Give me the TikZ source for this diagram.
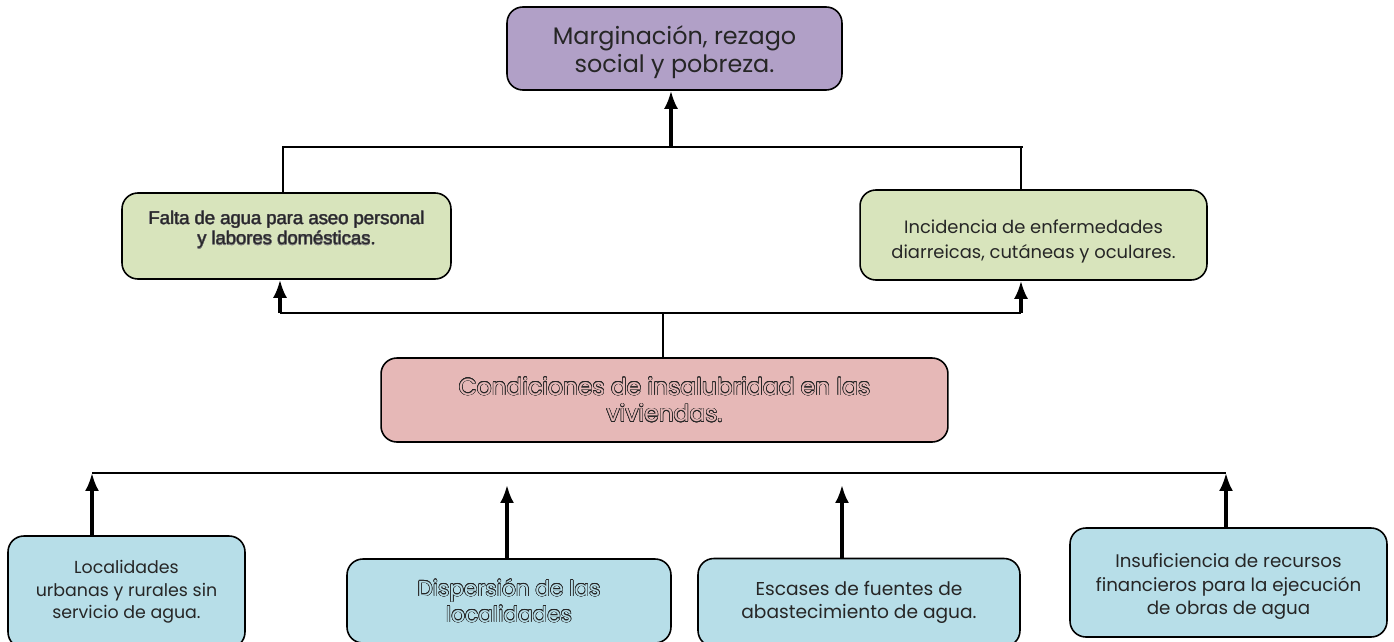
\documentclass[tikz,border=0pt]{standalone}
\usepackage{xcolor}
\usepackage{fontspec}
\setmainfont{Poppins}
\newfontfamily\arialfont{Liberation Sans}
\usepackage{contour}
\contourlength{0.3pt}
\usepackage{tikz}
\usetikzlibrary{arrows.meta,positioning}
\definecolor{lila}{HTML}{B1A0C7}
\definecolor{verde}{HTML}{D8E4BC}
\definecolor{rosa}{HTML}{E6B8B7}
\definecolor{celeste}{HTML}{B7DEE8}
\definecolor{texto}{HTML}{262626}
\tikzstyle{caja} = [draw, rounded corners=9pt, line width=0.9pt, align=center, inner sep=0pt, text=texto]
\tikzstyle{line} = [draw, line width=1.1pt]
\tikzstyle{flecha} = [draw, line width=1.8pt, -{Latex[length=0.36cm,width=0.28cm]}]

\begin{document}
\begin{tikzpicture}[x=0.02cm,y=-0.02cm]
  \useasboundingbox (0,0) rectangle (1394,642);

  % efecto final
  \node[caja,fill=lila,minimum width=6.70cm,minimum height=1.66cm,font=\fontsize{13.6}{15.8}\selectfont] (marg) at (674.5,48.5) {\rule{0pt}{14.5pt}Marginación, rezago\\social y pobreza.};

  % efectos
  \node[caja,fill=verde,minimum width=6.58cm,minimum height=1.72cm,font=\arialfont\fontsize{10.5}{11.6}\selectfont] (falta) at (286.5,236) {\contourlength{0.15pt}\contour{texto!60}{Falta de agua para aseo personal}\\\contourlength{0.15pt}\contour{texto!60}{y labores domésticas.}\\[-2.4pt]};
  \node[caja,fill=verde,minimum width=6.94cm,minimum height=1.80cm,font=\fontsize{10.2}{14.2}\selectfont] (incid) at (1033.5,235) {\rule{0pt}{15.5pt}Incidencia de enfermedades\\diarreicas, cutáneas y oculares.};

  % problema central
  \node[caja,fill=rosa,minimum width=11.34cm,minimum height=1.68cm,font=\fontsize{13.3}{15.3}\selectfont,text=rosa] (cond) at (664.5,400) {\contour{texto}{Condiciones de insalubridad en las}\\\contour{texto}{viviendas.}};

  % causas
  \node[caja,fill=celeste,minimum width=4.74cm,minimum height=2.24cm,font=\fontsize{9.9}{12.8}\selectfont] (local) at (126.5,592) {Localidades\\urbanas y rurales sin\\servicio de agua.};
  \node[caja,fill=celeste,minimum width=6.48cm,minimum height=1.68cm,font=\fontsize{12.3}{14.7}\selectfont,text=celeste] (disp) at (509,601) {\contour{texto}{Dispersión de las}\\\contour{texto}{localidades}};
  \node[caja,fill=celeste,minimum width=6.44cm,minimum height=1.76cm,font=\fontsize{10.6}{13}\selectfont] (esca) at (859,602.5) {Escases de fuentes de\\abastecimiento de agua.};
  \node[caja,fill=celeste,minimum width=6.34cm,minimum height=2.18cm,font=\fontsize{10.4}{13.3}\selectfont] (insu) at (1228.5,582.5) {\rule{0pt}{12.5pt}Insuficiencia de recursos\\financieros para la ejecución\\de obras de agua};

  % linea superior
  \coordinate (s1) at (283,147);
  \coordinate (s2) at (1023,147);
  \coordinate (s3) at (671,147);
  \draw[line] (s1 |- falta.north) -- (s1) -- (s2);
  \draw[line] (1021,147) -- (1021,0 |- incid.north);
  \draw[flecha] (s3) -- (s3 |- marg.south);

  % linea media
  \coordinate (m1) at (280,313);
  \coordinate (m2) at (1021,313);
  \draw[line] (m1) -- (m2);
  \draw[line] (663,0 |- cond.north) -- (663,313);
  \draw[flecha] (m1) -- (m1 |- falta.south);
  \draw[flecha] (m2) -- (m2 |- incid.south);

  % linea inferior
  \coordinate (i1) at (92,473);
  \coordinate (i2) at (1226,473);
  \coordinate (i3) at (507,485);
  \coordinate (i4) at (842,485);
  \draw[line] (i1) -- (i2);
  \draw[flecha] (i1 |- local.north) -- (i1);
  \draw[flecha] (i3 |- disp.north) -- (i3);
  \draw[flecha] (i4 |- esca.north) -- (i4);
  \draw[flecha] (i2 |- insu.north) -- (i2);
\end{tikzpicture}
\end{document}
